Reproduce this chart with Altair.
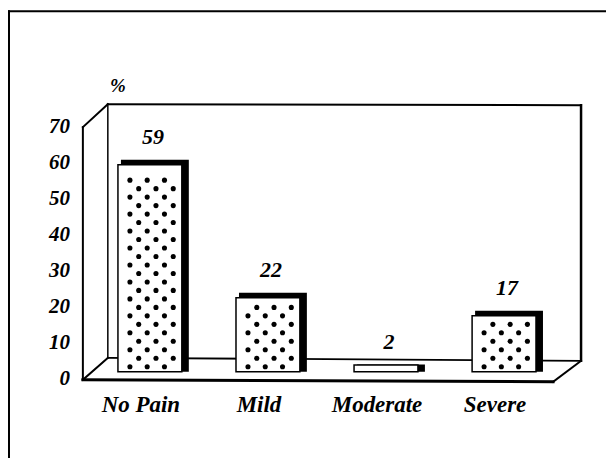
import altair as alt
import pandas as pd

# ---- data ----
categories = ["No Pain", "Mild", "Moderate", "Severe"]
values = [59, 22, 2, 17]
y_ticks = [0, 10, 20, 30, 40, 50, 60, 70]
unit_label = "%"

df = pd.DataFrame({"cat": categories, "value": values, "idx": list(range(len(categories)))})

W, H = 473, 252
PX = 4.0 / W        # x units per pixel
PY = 70.0 / H       # y units per pixel
BASE = 1.95         # bars stand a little back on the 3D floor
FONT = "Liberation Serif"

xs = alt.Scale(domain=[0, 4], nice=False, zero=False)
ys = alt.Scale(domain=[0, 70], nice=False, zero=False)

one = alt.Data(values=[{"k": 1}])


def seg(x1, y1, x2, y2, w=2.0):
    return alt.Chart(one).mark_rule(color="black", strokeWidth=w, strokeCap="square").encode(
        x=alt.value(x1), y=alt.value(y1), x2=alt.value(x2), y2=alt.value(y2)
    )


# frame of the figure and the 3D box (decoration)
deco = [
    seg(-85, -116, 513, -116, 2),      # figure frame top
    seg(-85, -116, -85, 331, 2),       # figure frame left
    seg(-11, 0, -11, 253, 2),          # front-left vertical (value axis line)
    seg(-11, 0, 14, -23, 2),           # left wall top diagonal
    seg(14, -23, 488, -22, 2),         # back wall top
    seg(14, -23, 14, 231, 1.5),        # back wall left edge
    seg(488, -22, 488, 234, 2.5),      # back wall right edge
    seg(14, 231, 488, 234, 1.8),       # back floor line
    seg(-11, 253, 460, 255, 3),        # front floor line
    seg(-11, 253, 14, 231, 2),         # floor left diagonal
    seg(460, 255, 488, 234, 2),        # floor right diagonal
]

# value-axis labels
tick_labels = alt.Chart(pd.DataFrame({"t": y_ticks})).mark_text(
    font=FONT, fontSize=21, fontStyle="italic", fontWeight="bold", color="black",
    align="right", baseline="middle",
).encode(
    y=alt.Y("t:Q", scale=ys, axis=None),
    x=alt.value(-24),
    text="t:Q",
)

base = alt.Chart(df).transform_calculate(
    c="datum.idx + 0.5",
    base=f"{BASE}",
    top=f"{BASE} + datum.value",
    ftop=f"{BASE} + datum.value - (datum.value < 5 ? 0.15 : {5 * PY})",
    bx1=f"datum.idx + 0.5 - {32 * PX}",
    bx2=f"datum.idx + 0.5 + {36 * PX}",
    fx1=f"datum.idx + 0.5 - {35 * PX}",
    fx2=f"datum.idx + 0.5 + {29 * PX}",
)

# dark side / top of each bar
shadow = base.mark_bar(color="black").encode(
    x=alt.X("bx1:Q", scale=xs, axis=None),
    x2="bx2:Q",
    y=alt.Y("top:Q", scale=ys, axis=None),
    y2="base:Q",
)

# white front face
face = base.mark_bar(color="white", stroke="black", strokeWidth=1.5).encode(
    x=alt.X("fx1:Q", scale=xs, axis=None),
    x2="fx2:Q",
    y=alt.Y("ftop:Q", scale=ys, axis=None),
    y2="base:Q",
)

# dotted texture on the front faces
dots = base.transform_calculate(
    rows=f"sequence(0, floor((datum.value - 5.1) / 2.36) + 1)",
    cols="[0, 1, 2]",
).transform_flatten(["rows"], as_=["row"]).transform_flatten(["cols"], as_=["col"]).transform_calculate(
    dotx=f"datum.c + (-23 + 17.3 * datum.col + (datum.row % 2) * 8.8) * {PX}",
    doty=f"{BASE} + {5 * PY} + datum.row * 2.36",
).mark_point(filled=True, color="black", size=26, opacity=1, shape="circle").encode(
    x=alt.X("dotx:Q", scale=xs, axis=None),
    y=alt.Y("doty:Q", scale=ys, axis=None),
)

value_labels = base.transform_calculate(
    ly="datum.top + 6.4"
).mark_text(
    font=FONT, fontSize=22, fontStyle="italic", fontWeight="bold", color="black", baseline="middle"
).encode(
    x=alt.X("c:Q", scale=xs, axis=None),
    y=alt.Y("ly:Q", scale=ys, axis=None),
    text="value:Q",
)

cat_labels = base.mark_text(
    font=FONT, fontSize=23, fontStyle="italic", fontWeight="bold", color="black",
    baseline="middle", dx=-12,
).encode(
    x=alt.X("c:Q", scale=xs, axis=None),
    y=alt.value(278),
    text="cat:N",
)

pct = alt.Chart(alt.Data(values=[{"t": unit_label}])).mark_text(
    font=FONT, fontSize=19, fontStyle="italic", fontWeight="bold", color="black", baseline="middle"
).encode(x=alt.value(24), y=alt.value(-41), text="t:N")

chart = alt.layer(*deco, tick_labels, shadow, face, dots, value_labels, cat_labels, pct).properties(
    width=W,
    height=H,
    padding={"left": 86, "top": 119, "right": 40, "bottom": 79},
    autosize=alt.AutoSizeParams(type="none"),
    background="white",
).configure_view(stroke=None)

chart.save("out.html", embed_options={"renderer": "svg", "actions": False})
